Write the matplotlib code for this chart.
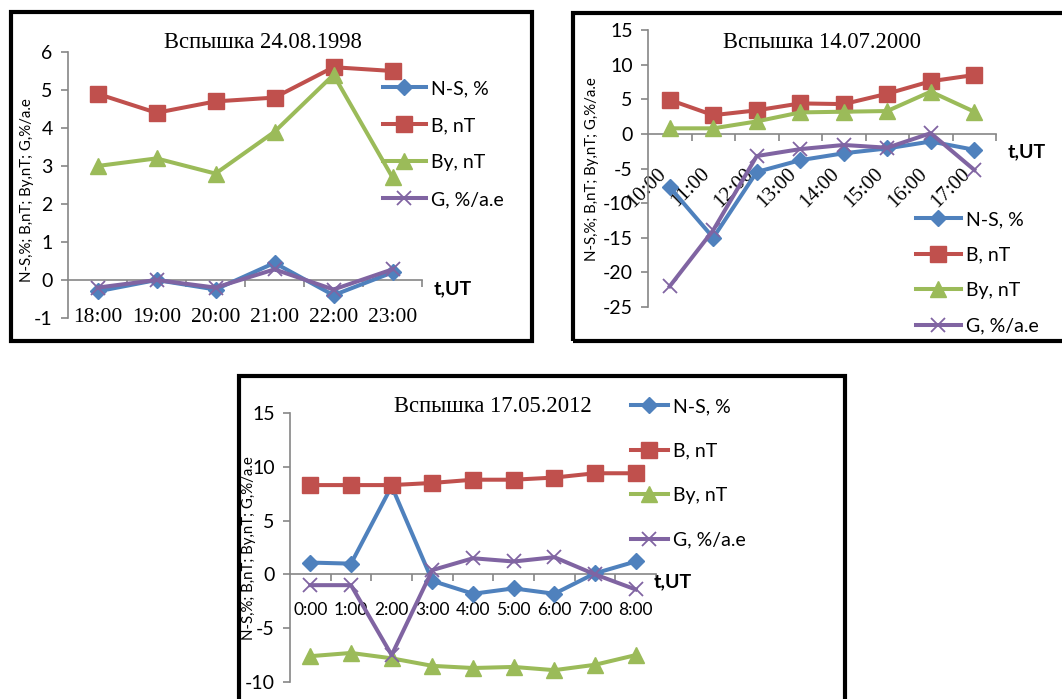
import matplotlib
matplotlib.use("Agg")
import matplotlib.pyplot as plt
from matplotlib.patches import Rectangle

# ---------------- data ----------------
times1 = ['18:00', '19:00', '20:00', '21:00', '22:00', '23:00']
ns1 = [-0.3, 0.0, -0.25, 0.45, -0.4, 0.2]
b1 = [4.9, 4.4, 4.7, 4.8, 5.6, 5.5]
by1 = [3.0, 3.2, 2.8, 3.9, 5.4, 2.7]
g1 = [-0.2, 0.0, -0.2, 0.28, -0.25, 0.28]

times2 = ['10:00', '11:00', '12:00', '13:00', '14:00', '15:00', '16:00', '17:00']
ns2 = [-7.7, -15.0, -5.5, -3.8, -2.8, -2.1, -1.1, -2.3]
b2 = [4.9, 2.7, 3.4, 4.4, 4.3, 5.8, 7.6, 8.5]
by2 = [0.8, 0.8, 1.8, 3.1, 3.2, 3.3, 6.1, 3.2]
g2 = [-22.0, -13.9, -3.2, -2.2, -1.6, -2.0, 0.1, -5.2]

times3 = ['0:00', '1:00', '2:00', '3:00', '4:00', '5:00', '6:00', '7:00', '8:00']
ns3 = [1.1, 1.0, 8.2, -0.6, -1.8, -1.3, -1.8, 0.1, 1.2]
b3 = [8.3, 8.3, 8.3, 8.5, 8.8, 8.8, 9.0, 9.4, 9.4]
by3 = [-7.6, -7.3, -7.8, -8.5, -8.7, -8.6, -8.9, -8.4, -7.5]
g3 = [-1.0, -1.0, -7.5, 0.4, 1.5, 1.2, 1.6, 0.0, -1.4]

titles = ['Вспышка 24.08.1998', 'Вспышка 14.07.2000', 'Вспышка 17.05.2012']
series_names = ['N-S, %', 'B, nT', 'By, nT', 'G, %/a.e']
ylabel_text = 'N-S,%; B,nT; By,nT; G,%/a.e'
xlabel_text = 't,UT'

# ---------------- style ----------------
W, H = 1062, 699
SANS = ['Lato', 'DejaVu Sans']
SERIF = ['Liberation Serif', 'DejaVu Serif']
colors = ['#4F81BD', '#C0504D', '#9BBB59', '#8064A2']
markers = ['D', 's', '^', 'x']
msizes = [8, 11, 11, 10]
AXC = '#868686'

fig = plt.figure(figsize=(W / 100, H / 100), dpi=100)


def fx(px):
    return px / W


def fy(py):
    return 1 - py / H


def frame(x0, y0, x1, y1):
    fig.patches.append(Rectangle((fx(x0), fy(y1)), fx(x1) - fx(x0), fy(y0) - fy(y1),
                                 transform=fig.transFigure, fill=False,
                                 edgecolor='black', linewidth=3.0, clip_on=False))


def make_panel(rect_px, times, series, ylim, yticks, xlab_font, xlab_size, rot, pad,
               title, title_xy, ylab_xy, tlab_xy, leg_xy, leg_spacing, handlelen):
    x0, y0, x1, y1 = rect_px
    ax = fig.add_axes([fx(x0), fy(y1), fx(x1) - fx(x0), fy(y0) - fy(y1)])
    n = len(times)
    xs = list(range(n))
    for vals, c, m, ms, name in zip(series, colors, markers, msizes, series_names):
        if m == 'x':
            ax.plot(xs, vals, color=c, lw=2.9, marker=m, ms=ms, mew=1.3,
                    label=name, clip_on=False, zorder=3)
        else:
            ax.plot(xs, vals, color=c, lw=2.9, marker=m, ms=ms, mec=c,
                    label=name, clip_on=False, zorder=3)
    ax.set_xlim(-0.5, n - 0.5)
    ax.set_ylim(*ylim)
    ax.set_yticks(yticks)
    ax.set_yticklabels([str(v) for v in yticks], fontfamily=SANS, fontsize=14)
    for s in ['top', 'right']:
        ax.spines[s].set_visible(False)
    ax.spines['left'].set_color(AXC)
    ax.spines['left'].set_linewidth(1.2)
    ax.spines['bottom'].set_position(('data', 0))
    ax.spines['bottom'].set_color(AXC)
    ax.spines['bottom'].set_linewidth(1.2)
    ax.tick_params(axis='y', colors=AXC, length=5, width=1.2, labelcolor='black', pad=6)
    ax.set_xticks(xs)
    if rot:
        ax.set_xticklabels(times, fontfamily=xlab_font, fontsize=xlab_size,
                           rotation=45, ha='right', va='top')
    else:
        ax.set_xticklabels(times, fontfamily=xlab_font, fontsize=xlab_size)
    ax.tick_params(axis='x', which='major', length=0, pad=pad, labelcolor='black')
    ax.set_xticks([i + 0.5 for i in range(n - 1)] + [n - 0.5], minor=True)
    ax.tick_params(axis='x', which='minor', length=5, width=1.2, colors=AXC, direction='out')
    ax.patch.set_alpha(0)

    fig.text(fx(title_xy[0]), fy(title_xy[1]), title, fontfamily=SERIF, fontsize=16.3,
             ha='center', va='center')
    fig.text(fx(ylab_xy[0]), fy(ylab_xy[1]), ylabel_text, fontfamily=SANS, fontsize=10.8,
             rotation=90, ha='center', va='center')
    fig.text(fx(tlab_xy[0]), fy(tlab_xy[1]), xlabel_text, fontfamily=SANS, fontsize=14,
             fontweight='bold', ha='center', va='center')
    handles, labels = ax.get_legend_handles_labels()
    fig.legend(handles, labels, loc='upper left',
               bbox_to_anchor=(fx(leg_xy[0]), fy(leg_xy[1])),
               frameon=False, borderpad=0, borderaxespad=0,
               handlelength=handlelen, handletextpad=0.25,
               labelspacing=leg_spacing, prop={'family': SANS, 'size': 14})
    return ax


# frames
frame(10.5, 11.5, 531.5, 341)
frame(572.5, 12.5, 1075, 341)
frame(238.5, 375.5, 844.5, 715)

make_panel((68, 52, 422, 318), times1, [ns1, b1, by1, g1], (-1, 6), list(range(-1, 7)),
           SERIF, 15.5, False, 20, titles[0], (263, 43), (27, 190), (453, 289),
           (383, 80), 1.03, 2.2)

make_panel((648, 30, 996, 307), times2, [ns2, b2, by2, g2], (-25, 15), list(range(-25, 16, 5)),
           SERIF, 15, True, 22, titles[1], (822, 43), (592, 169), (1027, 152),
           (916, 211), 0.95, 2.3)

make_panel((290, 413, 656, 682), times3, [ns3, b3, by3, g3], (-10, 15), list(range(-10, 16, 5)),
           SANS, 12.5, False, 20, titles[2], (493, 406), (249, 548), (673, 582),
           (631, 398), 1.42, 1.9)

fig.savefig('out.png', dpi=100)
